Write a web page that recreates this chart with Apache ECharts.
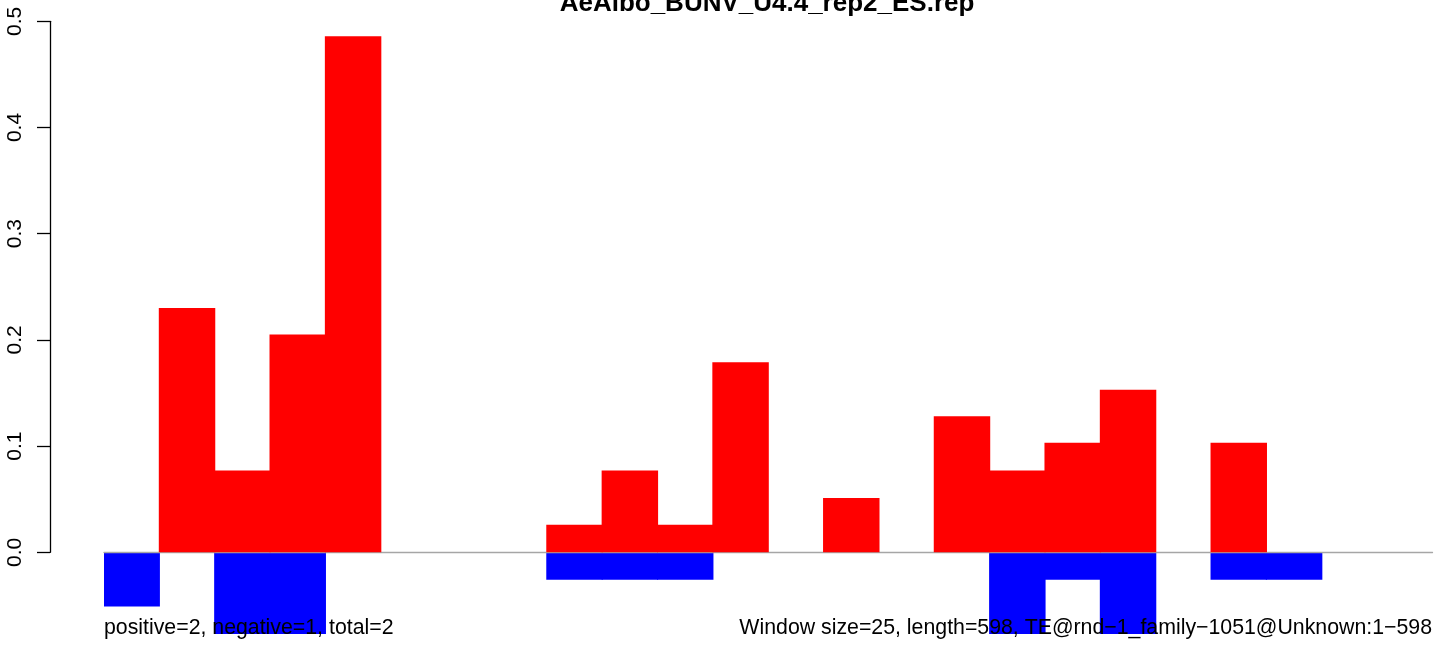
<!DOCTYPE html>
<html>
<head>
<meta charset="utf-8">
<script src="https://cdn.jsdelivr.net/npm/echarts@6/dist/echarts.min.js"></script>
<style>
html,body{margin:0;padding:0;background:#fff;}
#main{width:1444px;height:646px;}
</style>
</head>
<body>
<div id="main"></div>
<script>
// 24 windows of size 25 along a 598 bp sequence
const bins = ['1','2','3','4','5','6','7','8','9','10','11','12','13','14','15','16','17','18','19','20','21','22','23','24'];
const positiveValues = [null, 0.230, 0.077, 0.205, 0.486, null, null, null, 0.026, 0.077, 0.026, 0.179, null, 0.051, null, 0.128, 0.077, 0.103, 0.153, null, 0.103, null, null, null];
const negativeValues = [-0.051, null, -0.077, -0.077, null, null, null, null, -0.026, -0.026, -0.026, null, null, null, null, null, -0.077, -0.026, -0.077, null, -0.026, -0.026, null, null];
const yTicks = [0, 0.1, 0.2, 0.3, 0.4, 0.5];
const titleText = 'AeAlbo_BUNV_U4.4_rep2_ES.rep';
const leftNote = 'positive=2, negative=1, total=2';
const rightNote = 'Window size=25, length=598, TE@rnd\u22121_family\u22121051@Unknown:1\u2212598';

const FONT = '"Liberation Sans", Arial, Helvetica, sans-serif';
const chart = echarts.init(document.getElementById('main'), null, {renderer: 'canvas'});

const plotTop = 21.3, zeroY = 552.3, plotBottom = 634;
const yMin = negativeValues.reduce((m, v) => v != null && v < m ? v : m, 0);
const yMax = yTicks[yTicks.length - 1];

chart.setOption({
  animation: false,
  backgroundColor: '#ffffff',
  grid: [
    {left: 104, width: 1328.5, top: plotTop, height: plotBottom - plotTop},
    {left: 50, width: 10, top: plotTop, height: zeroY - plotTop}
  ],
  xAxis: [
    {
      type: 'category', gridIndex: 0, data: bins, z: 2,
      axisLine: {show: true, onZero: true, lineStyle: {color: '#a6a6a6', width: 1.3}},
      axisTick: {show: false}, axisLabel: {show: false}, splitLine: {show: false}
    },
    {type: 'value', gridIndex: 1, show: false, min: 0, max: 1}
  ],
  yAxis: [
    {type: 'value', gridIndex: 0, min: yMin, max: yMax, show: false, splitLine: {show: false}},
    {
      type: 'value', gridIndex: 1, min: 0, max: yMax, interval: 0.1, position: 'left',
      axisLine: {show: true, lineStyle: {color: '#000', width: 1.3}},
      axisTick: {show: true, length: 13, lineStyle: {color: '#000', width: 1.3}},
      axisLabel: {
        show: true, rotate: 90, margin: 24, color: '#000',
        fontFamily: FONT, fontSize: 21,
        formatter: v => v.toFixed(1)
      },
      splitLine: {show: false}
    }
  ],
  series: [
    {
      name: 'negative', type: 'bar', xAxisIndex: 0, yAxisIndex: 0,
      data: negativeValues, barWidth: '102%', barGap: '-100%', z: 1,
      itemStyle: {color: '#0000ff'}
    },
    {
      name: 'positive', type: 'bar', xAxisIndex: 0, yAxisIndex: 0,
      data: positiveValues, barWidth: '102%', barGap: '-100%', z: 3,
      itemStyle: {color: '#ff0000'}
    }
  ],
  graphic: [
    {
      type: 'text', x: 767, y: 4, z: 10,
      style: {text: titleText, font: 'bold 26px ' + FONT, fill: '#000', align: 'center', verticalAlign: 'middle'}
    },
    {
      type: 'text', x: 104, y: 628, z: 10,
      style: {text: leftNote, font: '21.3px ' + FONT, fill: '#000', align: 'left', verticalAlign: 'middle'}
    },
    {
      type: 'text', x: 1432, y: 628, z: 10,
      style: {text: rightNote, font: '21.3px ' + FONT, fill: '#000', align: 'right', verticalAlign: 'middle'}
    }
  ]
});
</script>
</body>
</html>
